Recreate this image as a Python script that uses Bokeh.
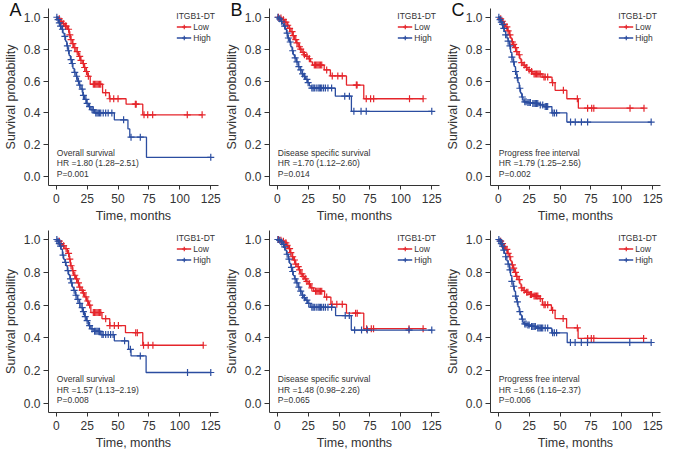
import numpy as np
from bokeh.plotting import figure
from bokeh.models import Legend, LegendItem, Label, Title, Range1d, FixedTicker, NumeralTickFormatter
from bokeh.layouts import gridplot
from bokeh.embed import file_html
from bokeh.resources import INLINE

# ---------------- data (months, survival probability) ----------------
x_ticks = [0, 25, 50, 75, 100, 125]
y_ticks = [0.0, 0.2, 0.4, 0.6, 0.8, 1.0]
groups = ["Low", "High"]
panel_letters = ["A", "B", "C"]

# Top row -------------------------------------------------------------
os1_low_t = [1.5, 3, 5, 7, 9, 10.5, 11.5, 13, 14, 16, 18, 19.5, 21, 22.5, 24, 25.5, 27.5, 37.5, 43, 56.5, 70]
os1_low_s = [0.99, 0.975, 0.96, 0.945, 0.925, 0.89, 0.86, 0.835, 0.81, 0.785, 0.755, 0.73, 0.71, 0.685, 0.66, 0.63, 0.58, 0.527, 0.489, 0.455, 0.388]
os1_low_c = [2.5, 4, 6, 7.5, 8, 10, 11, 12, 13.5, 15, 17, 19, 20, 22, 23, 24.5, 26, 30, 31, 32, 33, 34, 35, 36, 40, 43.5, 46.5, 50, 64, 64.7, 71, 74, 78, 106, 118]
os1_high_t = [1, 2, 3, 4.5, 5.5, 6.5, 7.5, 8.5, 9.5, 10.5, 11.5, 12.5, 13.5, 14.5, 16, 17, 18.5, 20, 21.5, 23, 24.5, 26, 28, 31, 47, 58, 59.5, 73]
os1_high_s = [0.985, 0.965, 0.945, 0.925, 0.9, 0.88, 0.85, 0.82, 0.79, 0.76, 0.735, 0.71, 0.68, 0.655, 0.63, 0.6, 0.575, 0.55, 0.51, 0.485, 0.46, 0.44, 0.42, 0.40, 0.357, 0.30, 0.248, 0.122]
os1_high_c = [0.5, 1.5, 2.5, 3.5, 5, 7, 9, 10, 12, 13, 15, 16.5, 18, 19, 21, 22, 24, 25, 27, 29, 30, 32, 33, 34, 35, 36, 38, 40, 42, 45, 54.5, 60.5, 68, 125]

dss1_low_t = [2, 4, 6, 8, 9.5, 11, 12.5, 14, 15.5, 17, 18.5, 20, 21.5, 23, 25, 27, 28.5, 38, 43, 56, 70]
dss1_low_s = [0.995, 0.985, 0.97, 0.95, 0.93, 0.91, 0.885, 0.86, 0.84, 0.815, 0.80, 0.78, 0.765, 0.755, 0.74, 0.72, 0.70, 0.67, 0.632, 0.575, 0.489]
dss1_low_c = [1, 3, 5, 7, 8.5, 10, 12, 13, 15, 16, 18, 19, 21, 22, 24, 26, 30, 31, 32, 33, 34, 35, 36, 40, 44.5, 49, 52.6, 64, 64.6, 72, 75.5, 78, 107, 118]
dss1_high_t = [1.5, 3, 4, 5, 6.5, 7.5, 8.5, 10, 11, 12, 13, 14, 15.5, 17, 18.5, 20, 21.5, 23, 24.5, 26, 27.5, 47, 60]
dss1_high_s = [0.99, 0.975, 0.96, 0.945, 0.925, 0.9, 0.87, 0.845, 0.815, 0.79, 0.765, 0.745, 0.72, 0.69, 0.67, 0.645, 0.63, 0.61, 0.59, 0.57, 0.556, 0.505, 0.41]
dss1_high_c = [0.5, 2, 3.5, 6, 8, 9, 10.5, 12.5, 14.5, 16, 17.5, 19, 20.5, 22, 24, 25, 28, 29, 30, 31.5, 33, 34, 35, 36, 37.5, 39, 41, 44, 54.6, 58.4, 62, 67.8, 72, 125]

pfi1_low_t = [1.5, 3, 4.5, 6, 7.5, 9, 10, 11, 12, 13, 14.5, 16, 17.5, 18.5, 20, 22, 24, 26, 28, 35.5, 43.5, 46, 55.5, 64.8]
pfi1_low_s = [0.99, 0.975, 0.955, 0.94, 0.915, 0.89, 0.87, 0.845, 0.83, 0.81, 0.785, 0.765, 0.74, 0.715, 0.70, 0.685, 0.67, 0.66, 0.645, 0.625, 0.59, 0.542, 0.489, 0.43]
pfi1_low_c = [2, 3.5, 5, 7, 8, 9.5, 11.5, 12.5, 14, 15, 17, 19, 21, 23, 25, 27, 29, 30, 31, 32, 33, 34, 37, 38, 40, 44, 52.7, 64, 72.3, 75.6, 77.3, 106.6, 117.9]
pfi1_high_t = [1, 2, 3, 4, 5, 6, 7, 8, 9, 10, 11, 12, 13, 14, 15, 16, 17, 18, 19, 20, 21, 23, 27, 33, 37, 43.4, 55.5]
pfi1_high_s = [0.985, 0.97, 0.955, 0.93, 0.91, 0.89, 0.87, 0.85, 0.82, 0.78, 0.75, 0.72, 0.69, 0.66, 0.62, 0.59, 0.555, 0.525, 0.50, 0.48, 0.47, 0.465, 0.46, 0.45, 0.44, 0.40, 0.343]
pfi1_high_c = [0.5, 1.5, 2.5, 3.5, 4.5, 6, 8, 9.5, 11, 12.5, 14, 15.5, 17.5, 19.5, 21.5, 22.5, 24, 25, 26, 28, 29, 30, 31, 32, 34, 36, 38, 39, 40, 44.2, 45.5, 47.2, 58.5, 62.3, 67.3, 72.3, 123.7]

# Bottom row ----------------------------------------------------------
os2_low_t = [1.5, 3, 5, 7, 9, 10.5, 11.5, 13, 14, 15.5, 17, 18.5, 20, 21.5, 23, 24.5, 26, 28, 37, 43.3, 56, 70]
os2_low_s = [0.99, 0.975, 0.962, 0.945, 0.915, 0.88, 0.84, 0.81, 0.782, 0.76, 0.735, 0.71, 0.69, 0.675, 0.65, 0.625, 0.6, 0.555, 0.517, 0.475, 0.432, 0.355]
os2_low_c = [2.5, 4, 6, 8, 10, 11, 12, 13.5, 15, 16.5, 18, 19, 21, 22, 24, 25.5, 27, 30, 31, 32, 33, 34, 35, 36, 40, 43.4, 47, 50.3, 64.3, 65.6, 70.6, 74.4, 78.2, 118.9]
os2_high_t = [1, 2, 3, 4, 5, 6, 7, 8, 9, 10, 11, 12, 13, 14, 15.5, 17, 18.5, 20, 21.5, 23, 24.5, 26, 28, 30.5, 36, 47, 58.5, 60.5, 72.7]
os2_high_s = [0.99, 0.975, 0.96, 0.94, 0.905, 0.88, 0.86, 0.84, 0.81, 0.785, 0.76, 0.735, 0.71, 0.69, 0.66, 0.635, 0.61, 0.585, 0.56, 0.53, 0.505, 0.475, 0.455, 0.44, 0.42, 0.382, 0.33, 0.29, 0.189]
os2_high_c = [0.5, 1.5, 2.5, 3.5, 5.5, 7.5, 9.5, 11.5, 12.5, 14.5, 16, 17.5, 19, 21, 22, 23.5, 25, 27, 29, 31, 32, 33, 34, 35, 37, 38, 40, 42, 44, 46, 55.3, 60, 68, 106.2, 125]

dss2_low_t = [2, 4, 6, 7.5, 9, 10.5, 12, 13, 14.5, 16, 17.5, 19, 20.5, 22, 23.5, 25, 27, 29.5, 38.3, 43.4, 56, 70]
dss2_low_s = [0.995, 0.99, 0.98, 0.965, 0.945, 0.92, 0.895, 0.875, 0.85, 0.835, 0.815, 0.79, 0.775, 0.76, 0.745, 0.73, 0.705, 0.685, 0.649, 0.605, 0.551, 0.456]
dss2_low_c = [1, 3, 5, 7, 8, 10, 11, 12.5, 14, 15, 17, 18, 20, 21, 23, 24, 26, 28, 31, 32, 33, 34, 35, 36, 40, 44.4, 48.2, 52.6, 63.4, 64.7, 72.3, 76.1, 77.9, 106.6, 118]
dss2_high_t = [1.5, 3, 4, 5.5, 6.5, 7.5, 9, 10, 11, 12, 13, 14, 15.5, 17, 18.5, 20, 21.5, 23, 24.5, 26.7, 47.2, 59.9]
dss2_high_s = [0.995, 0.985, 0.97, 0.955, 0.935, 0.91, 0.88, 0.855, 0.83, 0.805, 0.78, 0.76, 0.735, 0.71, 0.685, 0.66, 0.645, 0.63, 0.61, 0.587, 0.536, 0.448]
dss2_high_c = [0.5, 2, 3.5, 5, 6, 8, 9.5, 11.5, 12.5, 14.5, 16, 17.5, 19, 20.5, 22, 24, 25.5, 28, 29, 30, 31.5, 33, 34, 35, 36, 37.5, 39, 41, 44, 55, 58.3, 62.6, 68.2, 72.8, 106.6, 125]

pfi2_low_t = [1.5, 3, 4.5, 6, 7.5, 9, 10, 11, 12, 13, 14.5, 16, 17.5, 18.5, 20, 22, 25, 28, 33, 35.7, 43, 46, 55.3, 64.6]
pfi2_low_s = [0.99, 0.975, 0.955, 0.94, 0.915, 0.895, 0.87, 0.845, 0.825, 0.8, 0.775, 0.755, 0.73, 0.705, 0.69, 0.678, 0.665, 0.655, 0.64, 0.602, 0.568, 0.518, 0.461, 0.397]
pfi2_low_c = [2, 3.5, 5, 7, 8, 9.5, 11.5, 12.5, 14, 15, 17, 19, 21, 23, 24, 26, 27, 29, 30, 31, 32, 34, 37, 38, 40, 44, 52.5, 64, 72.3, 75.3, 77.3, 117.6]
pfi2_high_t = [1, 2, 3, 4, 5, 6, 7, 8, 9, 10, 11, 12, 13, 14, 15, 16, 17, 18, 19, 20, 21, 23, 26, 31, 43.3, 55.8]
pfi2_high_s = [0.99, 0.975, 0.96, 0.935, 0.915, 0.895, 0.87, 0.85, 0.815, 0.78, 0.745, 0.715, 0.685, 0.655, 0.62, 0.59, 0.56, 0.54, 0.515, 0.495, 0.485, 0.478, 0.47, 0.46, 0.431, 0.372]
pfi2_high_c = [0.5, 1.5, 2.5, 3.5, 4.5, 6, 8, 9.5, 11, 12.5, 14, 15.5, 17.5, 19.5, 21.5, 22.5, 24, 25, 27, 28, 29, 30, 32, 33, 34, 35, 36, 38, 40, 44, 45.4, 47.2, 58.4, 62.2, 67.2, 72.2, 106.4, 123.7]

os1_text = ["Overall survival", "HR =1.80 (1.28\u20132.51)", "P=0.001"]
dss1_text = ["Disease specific survival", "HR =1.70 (1.12\u20132.60)", "P=0.014"]
pfi1_text = ["Progress free interval", "HR =1.79 (1.25\u20132.56)", "P=0.002"]
os2_text = ["Overall survival", "HR =1.57 (1.13\u20132.19)", "P=0.008"]
dss2_text = ["Disease specific survival", "HR =1.48 (0.98\u20132.26)", "P=0.065"]
pfi2_text = ["Progress free interval", "HR =1.66 (1.16\u20132.37)", "P=0.006"]

# ---------------- styling ----------------
RED = "#E5252B"
BLUE = "#2B4DA0"
FONT = "Liberation Sans"
TXT = "#333333"
W, H = 221, 227
XR = (-6.25, 131.25)
YR = (-0.055, 1.055)


def surv_at(t, s, x):
    tt = np.asarray(t, dtype=float)
    ss = np.asarray(s, dtype=float)
    idx = np.searchsorted(tt, np.asarray(x, dtype=float), side="right") - 1
    return np.where(idx >= 0, ss[np.clip(idx, 0, None)], 1.0)


def add_curve(p, t, s, c, color):
    end = max(max(c), max(t))
    xs = [0.0] + list(t) + [end]
    ys = [1.0] + list(s) + [s[-1]]
    ln = p.step(xs, ys, mode="after", line_color=color, line_width=1.3)
    cy = surv_at(t, s, c)
    pts = p.scatter(c, cy, marker="cross", size=7, line_color=color, line_width=1.2)
    return ln, pts


def make_panel(curves, texts, letter=None):
    top = 8 if letter else 3
    p = figure(width=W, height=H, output_backend="svg", toolbar_location=None,
               x_range=Range1d(*XR), y_range=Range1d(*YR),
               min_border_left=40, min_border_right=3, min_border_top=top, min_border_bottom=42)
    p.outline_line_color = None
    p.grid.visible = False
    p.background_fill_color = "white"
    p.border_fill_color = "white"

    for ax in (p.xaxis[0], p.yaxis[0]):
        ax.axis_line_color = "#333333"
        ax.axis_line_width = 1
        ax.major_tick_line_color = "#333333"
        ax.major_tick_in = 0
        ax.minor_tick_line_color = None
        ax.major_label_text_font = FONT
        ax.major_label_text_font_size = "12px"
        ax.major_label_text_color = TXT
        ax.axis_label_text_font = FONT
        ax.axis_label_text_font_size = "12.5px"
        ax.axis_label_text_font_style = "normal"
        ax.axis_label_text_color = TXT

    p.xaxis.ticker = FixedTicker(ticks=x_ticks)
    p.xaxis.major_tick_out = 4
    p.xaxis.major_label_standoff = 4
    p.xaxis.axis_label = "Time, months"
    p.xaxis.axis_label_standoff = 3

    p.yaxis.ticker = FixedTicker(ticks=y_ticks)
    p.yaxis.formatter = NumeralTickFormatter(format="0.0")
    p.yaxis.major_tick_out = 5
    p.yaxis.major_label_standoff = 3
    p.yaxis.axis_label = "Survival probability"
    p.yaxis.axis_label_standoff = 3

    items = []
    for name, (t, s, c, color) in zip(groups, curves):
        ln, pts = add_curve(p, t, s, c, color)
        items.append(LegendItem(label=name, renderers=[ln, pts]))

    leg = Legend(items=items, title="ITGB1-DT", location="top_right",
                 border_line_color=None, background_fill_alpha=0,
                 padding=3, margin=3, spacing=0,
                 glyph_width=15, glyph_height=11, label_height=11, label_width=18,
                 label_standoff=2, title_standoff=0,
                 label_text_font=FONT, label_text_font_size="8.5px", label_text_color=TXT,
                 title_text_font=FONT, title_text_font_size="8.5px",
                 title_text_font_style="normal", title_text_color=TXT)
    p.add_layout(leg)

    for txt, yv in zip(texts, [0.15, 0.083, 0.02]):
        p.add_layout(Label(x=0.5, y=yv, text=txt, text_font=FONT, text_font_size="8.5px",
                           text_color=TXT, text_baseline="middle", text_align="left"))

    if letter:
        p.add_layout(Title(text=letter, align="left", offset=-39, standoff=-22,
                           vertical_align="bottom", text_font=FONT, text_font_size="18px",
                           text_font_style="normal", text_color="#111111"), "above")
    return p


p1 = make_panel([(os1_low_t, os1_low_s, os1_low_c, RED), (os1_high_t, os1_high_s, os1_high_c, BLUE)], os1_text, panel_letters[0])
p2 = make_panel([(dss1_low_t, dss1_low_s, dss1_low_c, RED), (dss1_high_t, dss1_high_s, dss1_high_c, BLUE)], dss1_text, panel_letters[1])
p3 = make_panel([(pfi1_low_t, pfi1_low_s, pfi1_low_c, RED), (pfi1_high_t, pfi1_high_s, pfi1_high_c, BLUE)], pfi1_text, panel_letters[2])
p4 = make_panel([(os2_low_t, os2_low_s, os2_low_c, RED), (os2_high_t, os2_high_s, os2_high_c, BLUE)], os2_text)
p5 = make_panel([(dss2_low_t, dss2_low_s, dss2_low_c, RED), (dss2_high_t, dss2_high_s, dss2_high_c, BLUE)], dss2_text)
p6 = make_panel([(pfi2_low_t, pfi2_low_s, pfi2_low_c, RED), (pfi2_high_t, pfi2_high_s, pfi2_high_c, BLUE)], pfi2_text)

grid = gridplot([[p1, p2, p3], [p4, p5, p6]], toolbar_location=None)

open("out.html", "w").write(file_html(grid, INLINE))
